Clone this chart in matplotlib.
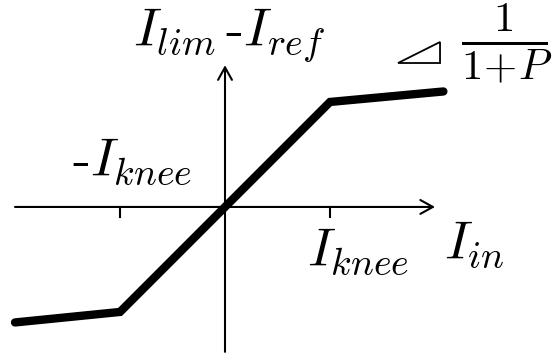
import matplotlib
matplotlib.use("Agg")
import matplotlib.pyplot as plt
from matplotlib.patches import Polygon

plt.rcParams["mathtext.fontset"] = "cm"
plt.rcParams["font.family"] = "cmr10"
plt.rcParams["axes.unicode_minus"] = False

# Limiter transfer curve (in units of I_knee)
curve_x = [-2.0, -1.0, 1.0, 2.08]
curve_y = [-1.10, -1.0, 1.0, 1.10]
knee_ticks = [-1.0, 1.0]

fig = plt.figure(figsize=(5.53, 3.57), dpi=100)
ax = fig.add_axes([0, 0, 1, 1])
ax.set_xlim(-2.143, 3.124)
ax.set_ylim(-1.429, 1.971)
ax.set_aspect("equal")
ax.axis("off")

arrow = dict(arrowstyle="->,head_length=0.9,head_width=0.5", lw=1.5,
             color="black", shrinkA=0, shrinkB=0)
# axes with open arrow heads
ax.annotate("", xy=(2.0, 0), xytext=(-2.0, 0), arrowprops=arrow)
ax.annotate("", xy=(0, 1.35), xytext=(0, -1.38), arrowprops=arrow)

for t in knee_ticks:
    ax.plot([t, t], [0, -0.1], color="black", lw=1.5)

ax.plot(curve_x, curve_y, color="black", lw=6,
        solid_capstyle="round", solid_joinstyle="miter", zorder=3)

fs = 39
ax.text(-0.88, 1.54, r"$I_{lim}\,$-$I_{ref}$", fontsize=fs, ha="left", va="baseline")
ax.text(-1.46, 0.30, r"-$I_{knee}$", fontsize=fs, ha="left", va="baseline")
ax.text(0.78, -0.56, r"$I_{knee}$", fontsize=fs, ha="left", va="baseline")
ax.text(2.09, -0.49, r"$I_{in}$", fontsize=fs, ha="left", va="baseline")

# slope marker
tri = Polygon([[1.648, 1.371], [2.048, 1.371], [2.048, 1.571]],
              closed=True, fill=False, lw=1.3, edgecolor="black")
ax.add_patch(tri)
ax.text(2.68, 1.56, r"$\frac{1}{1\!+\!P}$", fontsize=44, ha="center", va="center")

fig.savefig("out.png", dpi=100)
